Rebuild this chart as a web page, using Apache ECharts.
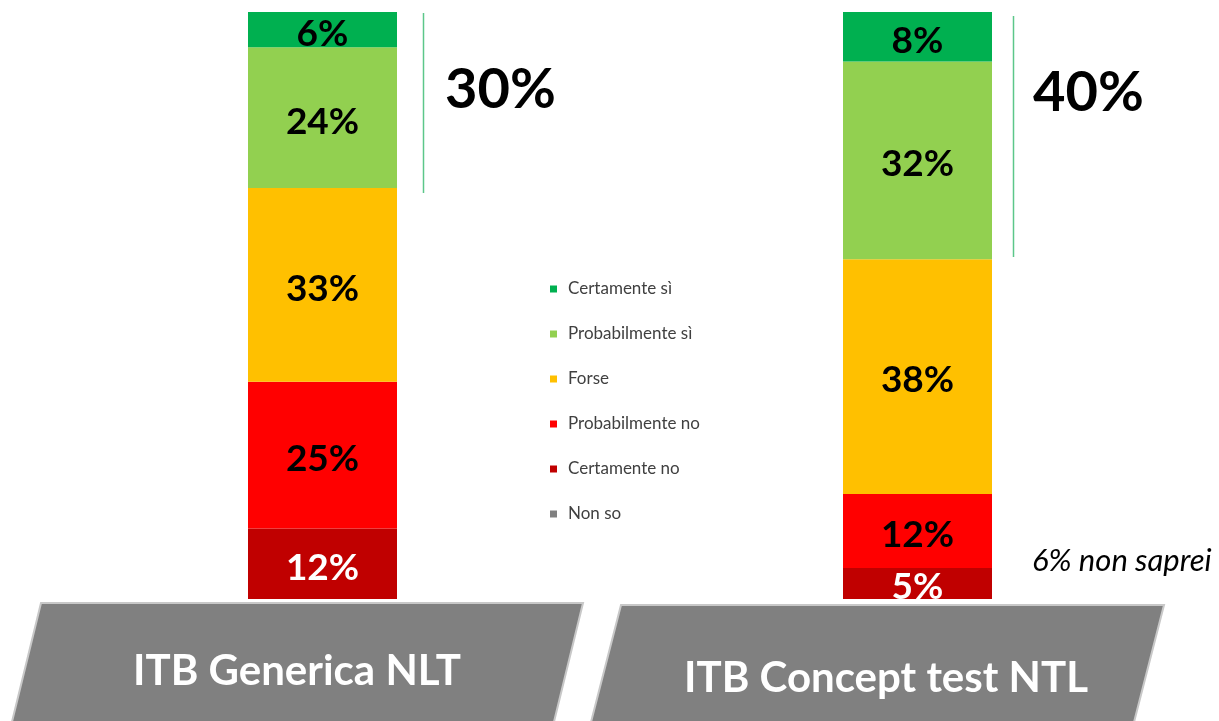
<!DOCTYPE html>
<html>
<head>
<meta charset="utf-8">
<script src="https://cdn.jsdelivr.net/npm/echarts@6/dist/echarts.min.js"></script>
<style>
    html, body { margin: 0; padding: 0; background: #fff; }
    #chart { width: 1219px; height: 721px; }
</style>
</head>
<body>
<div id="chart"></div>
<script>
// categorie (le due colonne)
const groups = ['ITB Generica NLT', 'ITB Concept test NTL']
// risposte, dall'alto verso il basso come in legenda
const answers = ['Certamente sì', 'Probabilmente sì', 'Forse', 'Probabilmente no', 'Certamente no', 'Non so']
const answerColors = ['#00b050', '#92d050', '#ffc000', '#ff0000', '#c00000', '#808080']
// valori % per colonna (stesso ordine di answers)
const generica = [6, 24, 33, 25, 12, 0]
const concept = [8, 32, 38, 12, 5, 6]

const columns = [generica, concept]
const gridLeft = [248, 843]

const chart = echarts.init(document.getElementById('chart'))

const grids = []
const xAxes = []
const yAxes = []
const series = []

columns.forEach((vals, gi) => {
    // la colonna mostra solo le risposte date (senza "Non so"), piena al 100%
    const shown = vals.slice(0, 5).reduce((a, b) => a + b, 0)
    grids.push({ left: gridLeft[gi], top: 12, width: 149, height: 587 })
    xAxes.push({ type: 'category', gridIndex: gi, data: [groups[gi]], show: false })
    yAxes.push({ type: 'value', gridIndex: gi, min: 0, max: shown, show: false, splitLine: { show: false } })
    // impila dal basso: Certamente no ... Certamente sì
    for (let i = 4; i >= 0; i--) {
        series.push({
            name: answers[i],
            type: 'bar',
            stack: 'tot' + gi,
            xAxisIndex: gi,
            yAxisIndex: gi,
            barWidth: '100%',
            itemStyle: { color: answerColors[i] },
            label: {
                show: true,
                position: 'inside',
                offset: [0, 4],
                formatter: '{c}%',
                fontFamily: 'Lato',
                fontWeight: 'bold',
                fontSize: 37,
                color: i === 4 ? '#ffffff' : '#000000'
            },
            data: [vals[i]]
        })
    }
})
// "Non so" solo in legenda (stesso stack, nessuna barra)
series.push({
    name: answers[5], type: 'bar', stack: 'tot0', xAxisIndex: 0, yAxisIndex: 0,
    barWidth: '100%', itemStyle: { color: answerColors[5] }, data: ['-']
})

const topTwo = columns.map(v => v[0] + v[1])

option = {
    animation: false,
    grid: grids,
    xAxis: xAxes,
    yAxis: yAxes,
    legend: {
        data: answers,
        orient: 'vertical',
        left: 545,
        top: 275,
        icon: 'rect',
        itemWidth: 7,
        itemHeight: 7,
        itemGap: 27,
        textStyle: { fontFamily: 'Lato', fontSize: 17, color: '#404040', lineHeight: 18, padding: [0, 0, 0, 6] }
    },
    series: series,
    graphic: [
        // trapezi grigi in basso
        {
            type: 'polygon',
            shape: { points: [[41, 603], [583, 603], [552, 730], [10, 730]] },
            style: { fill: '#808080', stroke: '#c8c8c8', lineWidth: 2 }
        },
        {
            type: 'polygon',
            shape: { points: [[621, 605], [1164, 605], [1132, 730], [589, 730]] },
            style: { fill: '#808080', stroke: '#c8c8c8', lineWidth: 2 }
        },
        {
            type: 'text', x: 297, y: 671,
            style: { text: groups[0], fill: '#fff', font: 'bold 42px Lato', textAlign: 'center', textVerticalAlign: 'middle' }
        },
        {
            type: 'text', x: 886, y: 678,
            style: { text: groups[1], fill: '#fff', font: 'bold 42px Lato', textAlign: 'center', textVerticalAlign: 'middle' }
        },
        // linee verdi + top two box
        {
            type: 'line', shape: { x1: 423.5, y1: 13, x2: 423.5, y2: 193 },
            style: { stroke: '#5cc78a', lineWidth: 1.5 }
        },
        {
            type: 'line', shape: { x1: 1013.5, y1: 16, x2: 1013.5, y2: 257 },
            style: { stroke: '#5cc78a', lineWidth: 1.5 }
        },
        {
            type: 'text', x: 445, y: 90,
            style: { text: topTwo[0] + '%', fill: '#000', font: 'bold 56px Lato', textAlign: 'left', textVerticalAlign: 'middle' }
        },
        {
            type: 'text', x: 1033, y: 93,
            style: { text: topTwo[1] + '%', fill: '#000', font: 'bold 56px Lato', textAlign: 'left', textVerticalAlign: 'middle' }
        },
        {
            type: 'text', x: 1032, y: 561,
            style: { text: concept[5] + '% non saprei', fill: '#000', font: 'italic 31px Lato', textAlign: 'left', textVerticalAlign: 'middle' }
        }
    ]
}

chart.setOption(option)
</script>
</body>
</html>
